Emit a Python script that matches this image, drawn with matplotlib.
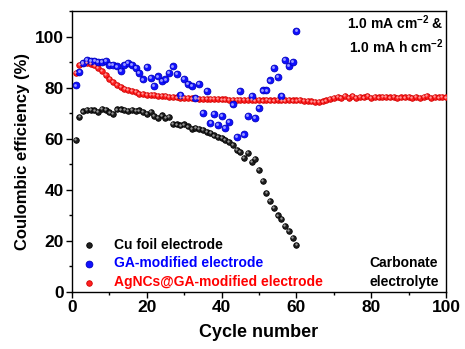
import numpy as np
import matplotlib
matplotlib.use("Agg")
import matplotlib.pyplot as plt
from matplotlib.transforms import offset_copy

plt.rcParams['font.family'] = ['Liberation Sans', 'DejaVu Sans']
plt.rcParams['font.weight'] = 'bold'
plt.rcParams['mathtext.fontset'] = 'custom'
plt.rcParams['mathtext.rm'] = 'Liberation Sans:bold'
plt.rcParams['mathtext.bf'] = 'Liberation Sans:bold'
plt.rcParams['mathtext.default'] = 'bf'

cu_cycles = list(range(1, 61))
cu_ce = [59.6, 68.7, 70.7, 71.4, 71.4, 71.1, 70.4, 71.6, 71.4, 70.3,
         69.8, 71.5, 71.5, 71.2, 70.8, 71.4, 70.8, 71.1, 70.4, 69.8,
         70.4, 69.0, 68.2, 69.1, 68.0, 68.4, 65.9, 65.6, 65.2, 65.6,
         64.8, 63.8, 64.3, 63.7, 63.3, 62.6, 62.2, 61.3, 60.7, 60.4,
         59.6, 58.8, 57.5, 55.7, 54.8, 52.6, 54.6, 50.9, 52.0, 47.7,
         43.5, 38.8, 35.5, 32.9, 30.0, 28.6, 25.9, 23.9, 21.2, 18.4]

ga_cycles = list(range(1, 61))
ga_ce = [80.9, 86.0, 89.7, 90.9, 90.6, 90.4, 90.0, 90.0, 90.4, 89.0,
         88.9, 88.3, 86.7, 88.9, 89.7, 89.0, 87.8, 85.8, 83.2, 88.2,
         83.9, 80.6, 84.4, 82.5, 83.2, 85.7, 88.3, 85.5, 77.3, 83.5,
         81.5, 80.6, 76.0, 81.5, 70.2, 78.6, 66.1, 69.8, 65.5, 68.9,
         64.3, 66.5, 73.4, 60.8, 78.6, 61.7, 68.9, 76.7, 68.2, 72.1,
         78.9, 78.9, 82.8, 87.8, 84.2, 76.9, 91.0, 88.4, 90.2, 102.1]

ag_cycles = list(range(1, 101))
ag_ce = [85.7, 89.0, 89.5, 89.7, 89.3, 88.7, 87.8, 86.7, 85.0, 83.5,
         82.2, 81.2, 80.2, 79.5, 79.0, 78.6, 78.2, 77.7, 77.4, 77.3,
         77.0, 77.0, 76.8, 76.7, 76.6, 76.4, 76.3, 76.2, 76.0, 76.0,
         75.9, 75.8, 75.8, 75.7, 75.7, 75.6, 75.6, 75.5, 75.5, 75.4,
         75.4, 75.3, 75.3, 75.2, 75.3, 75.1, 75.2, 75.1, 75.0, 75.1,
         75.0, 75.1, 75.0, 75.0, 75.1, 75.0, 75.0, 75.1, 75.0, 75.0,
         75.1, 74.9, 74.8, 74.6, 74.5, 74.4, 74.6, 75.0, 75.6, 76.1,
         76.5, 75.9, 76.6, 76.0, 76.7, 76.1, 76.5, 76.2, 76.8, 76.0,
         76.3, 76.2, 76.3, 76.3, 76.2, 76.3, 76.1, 76.2, 76.2, 76.3,
         76.1, 76.4, 76.0, 76.3, 76.6, 76.1, 76.4, 76.2, 76.3, 76.2]

x_ticks = [0, 20, 40, 60, 80, 100]
y_ticks = [0, 20, 40, 60, 80, 100]

fig = plt.figure(figsize=(4.65, 3.49), dpi=100)
ax = fig.add_axes([0.1548, 0.1633, 0.8043, 0.8052])


def sphere(x, y, base, edge, hi, s, label):
    ax.scatter(x, y, s=s, color=base, edgecolors=edge, linewidths=0.6,
               zorder=3, label=label)
    tr = offset_copy(ax.transData, fig=fig, x=-0.6, y=0.6, units='points')
    ax.scatter(x, y, s=s * 0.18, color=hi, linewidths=0, zorder=4,
               transform=tr)


sphere(ag_cycles, ag_ce, '#ff2020', '#d00000', '#ff9a9a', 16,
       'AgNCs@GA-modified electrode')
sphere(cu_cycles, cu_ce, '#202020', '#000000', '#9a9a9a', 16,
       'Cu foil electrode')
sphere(ga_cycles, ga_ce, '#1010ff', '#0000c0', '#9a9aff', 24,
       'GA-modified electrode')

ax.set_xlim(0, 100)
ax.set_ylim(0, 110)
ax.set_xticks(x_ticks)
ax.set_yticks(y_ticks)
ax.set_xticks(range(0, 101, 10), minor=True)
ax.set_yticks(range(0, 111, 10), minor=True)
ax.tick_params(axis='both', which='major', direction='out', length=4,
               width=1, labelsize=12.5, pad=2)
ax.tick_params(axis='both', which='minor', direction='out', length=2,
               width=1)
for lab in ax.get_xticklabels() + ax.get_yticklabels():
    lab.set_fontweight('bold')
for sp in ax.spines.values():
    sp.set_linewidth(1.0)

ax.set_xlabel('Cycle number', fontsize=13, fontweight='bold', labelpad=6)
ax.set_ylabel('Coulombic efficiency (%)', fontsize=12, fontweight='bold',
              labelpad=3)

h, l = ax.get_legend_handles_labels()
order = [1, 2, 0]
leg = ax.legend([h[i] for i in order], [l[i] for i in order],
                loc='lower left', bbox_to_anchor=(0.02, 0.0),
                frameon=False, handlelength=1.0,
                handletextpad=1.3, labelspacing=0.35, borderpad=0.2,
                borderaxespad=0.0, markerscale=1.0,
                prop={'weight': 'bold', 'size': 10})
for txt, c in zip(leg.get_texts(), ['black', '#0000ff', '#ff0000']):
    txt.set_color(c)

ax.text(0.993, 0.99, '1.0 mA cm$^{-2}$ &\n1.0 mA h cm$^{-2}$',
        transform=ax.transAxes, ha='right', va='top', fontsize=10,
        fontweight='bold', linespacing=1.3)
ax.text(0.795, 0.012, 'Carbonate\nelectrolyte', transform=ax.transAxes,
        ha='left', va='bottom', fontsize=10, fontweight='bold',
        linespacing=1.4)

fig.savefig('out.png', dpi=100)
